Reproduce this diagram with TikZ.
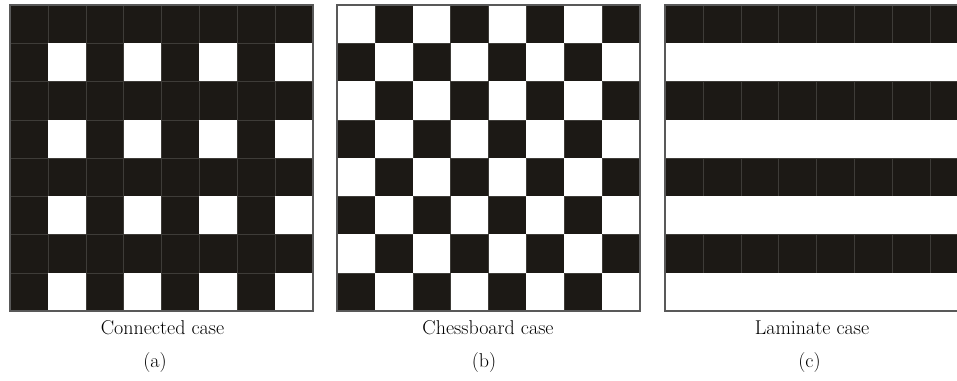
\documentclass[tikz,border=0pt]{standalone}
\usepackage{xcolor}
\usetikzlibrary{positioning}

\definecolor{cellblack}{HTML}{1C1915}
\tikzset{
  blackcell/.style={fill=cellblack, draw=cellblack!85!white, line width=0.3pt},
  whitecell/.style={fill=white},
  gridframe/.style={draw=gray!70!black, line width=0.8pt},
  caption/.style={font=\fontsize{15}{18}\selectfont, inner sep=0pt},
}

\begin{document}
\begin{tikzpicture}[x=0.75pt, y=0.75pt]
          \useasboundingbox (0,0) rectangle (957,381);
          \clip (0,0) rectangle (957,381);

          \def\cw{37.875}
          \def\ch{38.25}

          % Connected case
          \foreach \r in {0,...,7}
            \foreach \c in {0,...,7}{
              \pgfmathtruncatemacro{\iswhite}{mod(\r,2)*mod(\c,2)}
              \ifnum\iswhite=1
                \fill[whitecell] (10+\c*\cw,376-\r*\ch) rectangle ++(\cw,-\ch);
              \else
                \draw[blackcell] (10+\c*\cw,376-\r*\ch) rectangle ++(\cw,-\ch);
              \fi
            }
          \draw[gridframe] (10,376) rectangle ++(8*\cw,-8*\ch);

          % Chessboard case
          \foreach \r in {0,...,7}
            \foreach \c in {0,...,7}{
              \pgfmathtruncatemacro{\iswhite}{1-mod(\r+\c,2)}
              \ifnum\iswhite=1
                \fill[whitecell] (337+\c*\cw,376-\r*\ch) rectangle ++(\cw,-\ch);
              \else
                \draw[blackcell] (337+\c*\cw,376-\r*\ch) rectangle ++(\cw,-\ch);
              \fi
            }
          \draw[gridframe] (337,376) rectangle ++(8*\cw,-8*\ch);

          % Laminate case
          \foreach \r in {0,...,7}
            \foreach \c in {0,...,7}{
              \pgfmathtruncatemacro{\iswhite}{mod(\r,2)}
              \ifnum\iswhite=1
                \fill[whitecell] (665+\c*\cw,376-\r*\ch) rectangle ++(\cw,-\ch);
              \else
                \draw[blackcell] (665+\c*\cw,376-\r*\ch) rectangle ++(\cw,-\ch);
              \fi
            }
          \draw[gridframe] (665,376) rectangle ++(8*\cw,-8*\ch);

          \node[caption] (ConnectedCase) at (162.5,53) {Connected case};
          \node[caption] (ChessboardCase) at (488,53) {Chessboard case};
          \node[caption] (LaminateCase) at (812,53) {Laminate case};

          \node[caption] (ConnectedTag) at (155,18) {(a)};
          \node[caption] (ChessboardTag) at (484,18) {(b)};
          \node[caption] (LaminateTag) at (809.5,18) {(c)};

        \end{tikzpicture}
\end{document}
